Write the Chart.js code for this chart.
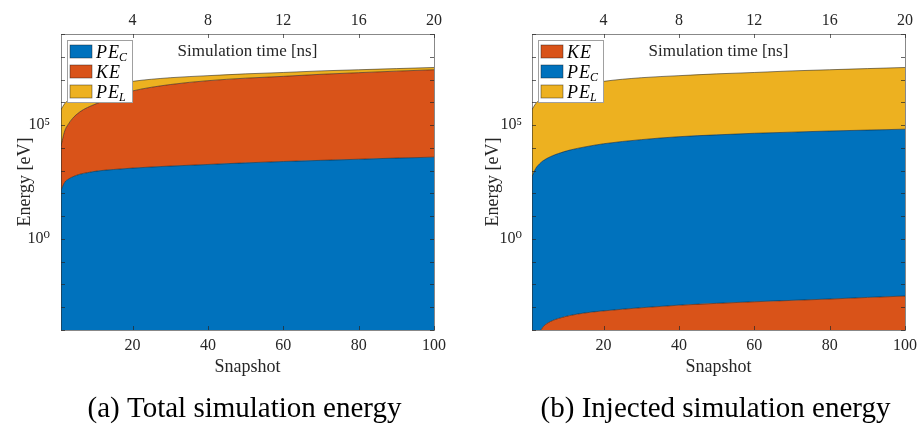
<!DOCTYPE html>
<html>
<head>
<meta charset="utf-8">
<script src="https://cdn.jsdelivr.net/npm/chart.js@4.4.1/dist/chart.umd.min.js"></script>
<style>
  body { margin: 0; background: #fff; }
  #wrap { position: relative; width: 919px; height: 425px; }
  canvas { position: absolute; top: 0; }
</style>
</head>
<body>
<div id="wrap">
  <canvas id="total" width="460" height="425" style="left:0"></canvas>
  <canvas id="injected" width="459" height="425" style="left:460px"></canvas>
</div>
<script>
// snapshots where the energies were sampled (one snapshot = 0.2 ns)
const snapshots = [1, 2, 3, 4, 6, 8, 11, 15, 20, 30, 40, 50, 60, 70, 80, 90, 100];

// total simulation energy per component [eV]
const totalPEC = [138, 309, 427, 525, 692, 813, 977, 1120, 1290, 1580, 1860, 2190, 2510, 2820, 3160, 3550, 3890];
const totalKE = [12160, 55900, 111800, 190000, 379500, 588000, 954000, 1777000, 3159000, 6030000, 8910000, 11480000, 13800000, 17000000, 20000000, 23400000, 26900000];
const totalPEL = [466000, 835000, 1147000, 1395000, 1859000, 2430000, 3210000, 4110000, 5160000, 5990000, 5880000, 6300000, 6620000, 6990000, 6920000, 6800000, 7000000];

// injected simulation energy per component [eV]
const injKE = [2.0e-5, 4.5e-5, 7.9e-5, 1.41e-4, 2.4e-4, 3.2e-4, 4.3e-4, 5.6e-4, 6.9e-4, 9.5e-4, 1.23e-3, 1.48e-3, 1.74e-3, 2.0e-3, 2.29e-3, 2.69e-3, 3.09e-3];
const injPEC = [550, 1259, 1995, 2754, 4169, 5623, 7943, 10960, 15140, 22910, 30900, 37150, 43650, 48980, 54950, 60260, 66070];
const injPEL = [478000, 890000, 1257000, 1582000, 2235000, 3010000, 4160000, 5880000, 8300000, 12000000, 14760000, 17740000, 20380000, 23940000, 26870000, 30140000, 33810000];

// axis ticks
const snapshotTicks = [20, 40, 60, 80, 100];
const timeTicks = [4, 8, 12, 16, 20];
const decades = [-4, -3, -2, -1, 0, 1, 2, 3, 4, 5, 6, 7, 8, 9];
const labelledDecades = [0, 5];
const superscript = { 0: '\u2070', 5: '\u2075' };

const BLUE = '#0072BD';
const ORANGE = '#D95319';
const YELLOW = '#EDB120';
const SERIF = '"Liberation Serif", "DejaVu Serif", serif';
const TEXT = '#262626';

function serie(label, valores, color, fill) {
    return {
        label: label,
        data: snapshots.map((s, i) => ({ x: s, y: valores[i] })),
        backgroundColor: color,
        borderColor: 'rgba(20,20,20,0.75)',
        borderWidth: 0.7,
        pointRadius: 0,
        cubicInterpolationMode: 'monotone',
        fill: fill,
        xAxisID: 'x',
        yAxisID: 'y'
    };
}

// the chart area is set by the layout padding only, not by label overhang
function sinMargen(s) {
    s.paddingLeft = 0; s.paddingRight = 0;
    s.paddingTop = 0; s.paddingBottom = 0;
}

// box, inward tick marks on all four sides
const marco = {
    id: 'marco',
    afterDatasetsDraw(chart) {
        const { ctx, chartArea: a, scales } = chart;
        const len = 4;
        ctx.save();
        ctx.strokeStyle = 'rgba(38,38,38,0.7)';
        ctx.lineWidth = 1;
        ctx.beginPath();
        scales.x.ticks.forEach(t => {
            const px = Math.round(scales.x.getPixelForValue(t.value)) + 0.5;
            ctx.moveTo(px, a.bottom); ctx.lineTo(px, a.bottom - len);
        });
        scales.x2.ticks.forEach(t => {
            const px = Math.round(scales.x2.getPixelForValue(t.value)) + 0.5;
            ctx.moveTo(px, a.top); ctx.lineTo(px, a.top + len);
        });
        scales.y.ticks.forEach(t => {
            const py = Math.round(scales.y.getPixelForValue(t.value)) + 0.5;
            ctx.moveTo(a.left, py); ctx.lineTo(a.left + len, py);
            ctx.moveTo(a.right, py); ctx.lineTo(a.right - len, py);
        });
        ctx.stroke();
        ctx.strokeStyle = 'rgba(38,38,38,0.55)';
        ctx.strokeRect(Math.round(a.left) + 0.5, Math.round(a.top) + 0.5, Math.round(a.width), Math.round(a.height));
        ctx.restore();
    }
};

// legend with subscripts, label text inside the axes and the caption underneath
const textos = {
    id: 'textos',
    afterDraw(chart, args, opts) {
        const { ctx, chartArea: a } = chart;
        const cx = (a.left + a.right) / 2;
        ctx.save();

        ctx.fillStyle = TEXT;
        ctx.font = '17px ' + SERIF;
        ctx.textAlign = 'center';
        ctx.textBaseline = 'middle';
        ctx.fillText('Simulation time [ns]', cx, a.top + 18);

        ctx.fillStyle = '#000';
        ctx.font = '29px ' + SERIF;
        ctx.fillText(opts.caption, cx - 3, 409);

        // legend
        const x0 = a.left + 6, y0 = a.top + 6, w = 65, h = 62;
        ctx.fillStyle = '#fff';
        ctx.fillRect(x0, y0, w, h);
        ctx.strokeStyle = '#a0a0a0';
        ctx.lineWidth = 1;
        ctx.strokeRect(x0 + 0.5, y0 + 0.5, w, h);
        ctx.textAlign = 'left';
        ctx.textBaseline = 'alphabetic';
        chart.data.datasets.forEach((ds, i) => {
            const cy = y0 + 11.5 + i * 20;
            ctx.fillStyle = ds.backgroundColor;
            ctx.fillRect(x0 + 3, cy - 6.5, 22, 13);
            ctx.strokeStyle = 'rgba(20,20,20,0.6)';
            ctx.lineWidth = 0.7;
            ctx.strokeRect(x0 + 3, cy - 6.5, 22, 13);
            const partes = ds.label.split('_');
            ctx.fillStyle = '#000';
            ctx.font = 'italic 18px ' + SERIF;
            ctx.letterSpacing = '1px';
            ctx.fillText(partes[0], x0 + 29, cy + 6);
            if (partes[1]) {
                const mw = ctx.measureText(partes[0]).width;
                ctx.font = 'italic 12px ' + SERIF;
                ctx.fillText(partes[1], x0 + 28 + mw, cy + 9);
            }
            ctx.letterSpacing = '0px';
        });
        ctx.restore();
    }
};

function grafica(id, datasets, caption, yWidth, padRight, yTitlePad, yTickPad) {
    const ctx = document.getElementById(id).getContext('2d');
    return new Chart(ctx, {
        type: 'line',
        data: { datasets: datasets },
        options: {
            responsive: false,
            animation: false,
            events: [],
            layout: { padding: { left: 0, right: padRight, top: 0, bottom: 0 } },
            plugins: {
                legend: { display: false },
                tooltip: { enabled: false },
                textos: { caption: caption }
            },
            scales: {
                x: {
                    type: 'linear',
                    position: 'bottom',
                    min: 1,
                    max: 100,
                    afterBuildTicks: s => { s.ticks = snapshotTicks.map(v => ({ value: v })); },
                    afterFit: s => { s.height = 95; sinMargen(s); },
                    grid: { display: false, drawTicks: false },
                    border: { display: false },
                    ticks: { font: { family: SERIF, size: 16 }, color: TEXT, padding: 6, maxRotation: 0, autoSkip: false },
                    title: { display: true, text: 'Snapshot', font: { family: SERIF, size: 18 }, color: TEXT, padding: { top: 0, bottom: 47 } }
                },
                x2: {
                    type: 'linear',
                    position: 'top',
                    min: 0.2,
                    max: 20,
                    afterBuildTicks: s => { s.ticks = timeTicks.map(v => ({ value: v })); },
                    afterFit: s => { s.height = 34; sinMargen(s); },
                    grid: { display: false, drawTicks: false },
                    border: { display: false },
                    ticks: { font: { family: SERIF, size: 16 }, color: TEXT, padding: 4, maxRotation: 0, autoSkip: false }
                },
                y: {
                    type: 'logarithmic',
                    stacked: true,
                    min: 1e-4,
                    max: 1e9,
                    afterBuildTicks: s => { s.ticks = decades.map(e => ({ value: Math.pow(10, e) })); },
                    afterFit: s => { s.width = yWidth; sinMargen(s); },
                    grid: { display: false, drawTicks: false },
                    border: { display: false },
                    ticks: {
                        font: { family: SERIF, size: 16 },
                        color: TEXT,
                        padding: yTickPad,
                        autoSkip: false,
                        callback: v => {
                            const e = Math.round(Math.log10(v));
                            return labelledDecades.includes(e) ? '10' + superscript[e] : '';
                        }
                    },
                    title: { display: true, text: 'Energy [eV]', font: { family: SERIF, size: 18 }, color: TEXT, padding: { top: yTitlePad, bottom: 0 } }
                }
            }
        },
        plugins: [marco, textos]
    });
}

grafica('total', [
    serie('PE_C', totalPEC, BLUE, 'start'),
    serie('KE', totalKE, ORANGE, '-1'),
    serie('PE_L', totalPEL, YELLOW, '-1')
], '(a) Total simulation energy', 61, 26, 14, 11);

grafica('injected', [
    serie('KE', injKE, ORANGE, 'start'),
    serie('PE_C', injPEC, BLUE, '-1'),
    serie('PE_L', injPEL, YELLOW, '-1')
], '(b) Injected simulation energy', 72, 14, 22, 10);
</script>
</body>
</html>
